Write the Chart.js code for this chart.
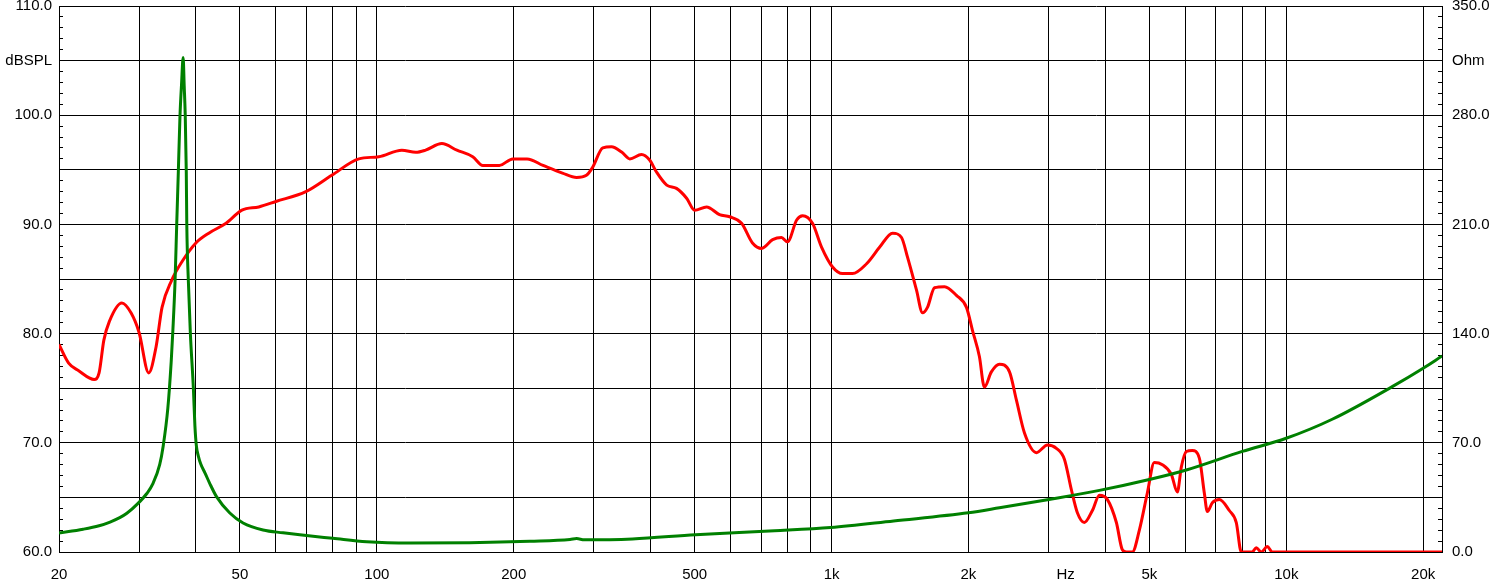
<!DOCTYPE html>
<html><head><meta charset="utf-8">
<script src="https://cdn.jsdelivr.net/npm/chart.js@4.4.0/dist/chart.umd.min.js"></script>
<style>html,body{margin:0;padding:0;background:#fff;overflow:hidden}#wrap{width:1498px;height:585px}</style>
</head><body><div id="wrap"><canvas id="c" width="1498" height="585"></canvas></div>
<script>
// SPL response (dB) vs frequency (Hz)
const splFreq=[20,21,22.1,23.9,24.5,25.1,25.8,27.5,28.8,30,31.5,32.7,33.7,35.4,37.3,40,42.7,46.6,50.5,55,60,69.8,79.6,91.3,101,113.5,121.8,128,139,150,162.5,171,186,199,214,232,256,275,289,298,314,328,346,360,382,398,412,434,456,480,500,531,567,597,634,670,702,742,776,800,838,864,908,951,1005,1057,1112,1194,1275,1362,1425,1469,1537,1585,1625,1684,1772,1882,1980,2041,2114,2168,2246,2340,2462,2550,2656,2822,2984,3122,3251,3368,3472,3596,3746,3882,4043,4230,4360,4450,4586,4752,4948,5126,5339,5588,5760,5878,6028,6214,6438,6603,6704,6876,7124,7494,7763,7962,8418,8590,8811,9082,9315,22000];
const splDb=[79.0,77.3,76.6,75.8,76.4,79.4,81.1,82.8,81.9,80.1,76.4,78.8,82.4,84.9,86.6,88.3,89.2,90.1,91.3,91.6,92.1,93.0,94.5,96.0,96.2,96.8,96.6,96.8,97.4,96.8,96.2,95.4,95.4,96.0,96.0,95.4,94.7,94.3,94.5,95.2,97.0,97.1,96.6,96.0,96.4,95.9,94.8,93.6,93.3,92.4,91.3,91.6,90.9,90.7,90.1,88.3,87.8,88.6,88.8,88.4,90.4,90.8,90.1,87.9,86.1,85.5,85.5,86.4,87.9,89.2,88.8,87.0,84.0,81.9,82.4,84.2,84.3,83.5,82.4,80.3,77.9,75.1,76.5,77.2,76.5,73.9,70.9,69.1,69.8,69.5,68.5,65.7,63.6,62.7,63.8,65.2,64.8,62.7,60.2,60,60,62.0,65.4,68.2,68.0,67.1,65.5,67.8,69.2,69.3,68.6,65.4,63.7,64.5,64.8,63.8,62.7,60,60,60.4,60,60.5,60,60];

// Impedance (Ohm) vs frequency (Hz)
const impFreq=[20,22.6,24.5,25.9,27.2,28.2,29.8,31.2,32.2,33.3,33.9,34.7,35.3,35.6,36.0,36.3,36.6,36.9,37.2,37.5,37.7,37.9,38.1,38.2,38.5,38.9,39.5,39.8,40.1,40.5,41.0,41.9,42.9,44.4,47.5,50.8,56.2,62.2,67.7,80,95,118.7,160,217,266,275,286,365,502,749,995,1369,2000,2340,2984,3882,4998,6028,8004,9994,12620,17100,20000,22000];
const impOhm=[12.2,14.6,16.8,19.2,22,24.8,31,37.5,44,56,68,92,122,142,174,210,244,279,300,317,299,280,244,210,174,140,104.5,81,68,61.5,56.4,50.6,44,35.5,25,18.6,14.1,12.3,11.0,8.8,6.6,5.8,6.0,6.9,8.0,8.6,7.8,8.4,11.1,13.6,15.7,19.9,25.1,28.3,33.5,39.5,46.5,52.6,64.5,72.9,85.1,106,117.8,125.6];

// Axis ticks
const xTickValues=[20,30,40,50,60,70,80,90,100,200,300,400,500,600,700,800,900,1000,2000,3000,3270,4000,5000,6000,7000,8000,9000,10000,20000];
const xTickLabels=['20','','','50','','','','','100','200','','','500','','','','','1k','2k','','Hz','','5k','','','','','10k','20k'];
const hzLabelFreq=3270;
const leftUnit='dBSPL', leftUnitAt=105;
const rightUnit='Ohm', rightUnitAt=315;
const FONT={family:'Liberation Sans',size:15};

function rangeTicks(min,max,step){const t=[];for(let v=min;v<=max+1e-9;v+=step)t.push({value:Math.round(v*1000)/1000});return t;}

new Chart(document.getElementById('c'),{
  type:'line',
  data:{datasets:[
    {data:impFreq.map((f,i)=>({x:f,y:impOhm[i]})),borderColor:'#008000',yAxisID:'y2'},
    {data:splFreq.map((f,i)=>({x:f,y:splDb[i]})),borderColor:'#ff0000',yAxisID:'y'}
  ]},
  options:{
    responsive:false,animation:false,devicePixelRatio:1,
    layout:{padding:{top:6,left:0,right:0,bottom:0}},
    plugins:{legend:{display:false},tooltip:{enabled:false}},
    elements:{point:{radius:0},line:{borderWidth:3,cubicInterpolationMode:'monotone',fill:false}},
    scales:{
      x:{type:'logarithmic',position:'bottom',min:20,max:22000,
        afterBuildTicks:s=>{s.ticks=xTickValues.map(v=>({value:v}));},
        afterFit:s=>{s.height=33;s.paddingLeft=0;s.paddingRight=0;},
        ticks:{autoSkip:false,maxRotation:0,minRotation:0,padding:14,color:'#000',font:FONT,
          callback:(v,i)=>xTickLabels[i]},
        grid:{color:c=>(c.tick&&c.tick.value===hzLabelFreq)?'rgba(0,0,0,0)':'#000',lineWidth:1,drawTicks:false},
        border:{display:true,color:'#000',width:1}},
      y:{type:'linear',position:'left',min:60,max:110,
        afterBuildTicks:s=>{s.ticks=rangeTicks(60,110,1);},
        afterFit:s=>{s.width=59;s.paddingTop=0;s.paddingBottom=0;},
        ticks:{autoSkip:false,padding:11,color:'#000',font:FONT,
          callback:v=>v===leftUnitAt?leftUnit:(v%10===0?v.toFixed(1):'')},
        grid:{color:c=>(c.tick&&c.tick.value%5===0)?'#000':'rgba(0,0,0,0)',tickColor:'#000',tickLength:-4,drawTicks:true,lineWidth:1},
        border:{display:true,color:'#000',width:1}},
      y2:{type:'linear',position:'right',min:0,max:350,
        afterBuildTicks:s=>{s.ticks=rangeTicks(0,350,7);},
        afterFit:s=>{s.width=56;s.paddingTop=0;s.paddingBottom=0;},
        ticks:{autoSkip:false,padding:14,color:'#000',font:FONT,
          callback:v=>v===rightUnitAt?rightUnit:(v%70===0?v.toFixed(1):'')},
        grid:{drawOnChartArea:false,tickColor:'#000',tickLength:-4,drawTicks:true},
        border:{display:true,color:'#000',width:1}}
    }
  }
});
</script></body></html>
